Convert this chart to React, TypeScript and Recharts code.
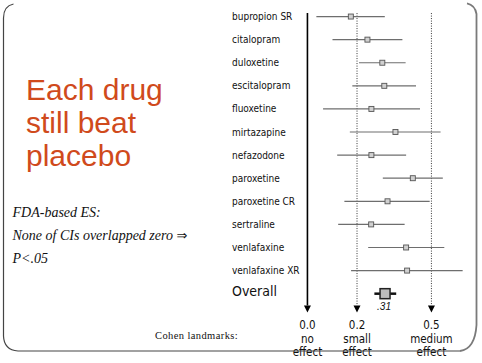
import React from 'react'
import { ScatterChart, Scatter, XAxis, YAxis, ReferenceLine, ReferenceDot } from 'recharts'

// Forest plot values (FDA-based effect sizes, 95% CI)
const drugs = [
  'bupropion SR', 'citalopram', 'duloxetine', 'escitalopram', 'fluoxetine', 'mirtazapine',
  'nefazodone', 'paroxetine', 'paroxetine CR', 'sertraline', 'venlafaxine', 'venlafaxine XR',
]
const effectSizes = [0.175, 0.242, 0.302, 0.31, 0.258, 0.355, 0.258, 0.425, 0.323, 0.257, 0.398, 0.402]
const ciLow = [0.036, 0.101, 0.208, 0.181, 0.063, 0.171, 0.12, 0.304, 0.149, 0.124, 0.245, 0.176]
const ciHigh = [0.312, 0.383, 0.396, 0.438, 0.454, 0.537, 0.398, 0.546, 0.493, 0.392, 0.552, 0.626]

const overallLabel = 'Overall'
const overallEs = 0.313
const overallText = '.31'
const overallCi = [0.27, 0.358]

const landmarks = [0, 0.2, 0.5]
const landmarkLabels = [
  ['0.0', 'no', 'effect'],
  ['0.2', 'small', 'effect'],
  ['0.5', 'medium', 'effect'],
]

const rowLabels = [...drugs, overallLabel]
const rowTicks = rowLabels.map((_, i) => i)
const overallRow = drugs.length

const drugData = drugs.map((name, i) => ({ name, x: effectSizes[i], y: i }))
const overallData = [{ name: overallLabel, x: overallEs, y: overallRow }]

const labelFont = '"DejaVu Sans Condensed", "DejaVu Sans", Tahoma, sans-serif'

function DrugTick(props: any) {
  const { y, payload } = props
  const isOverall = payload.value === overallRow
  return (
    <text
      x={232}
      y={y}
      dy={isOverall ? '0.2em' : '0.35em'}
      textAnchor="start"
      fontFamily={labelFont}
      fontSize={isOverall ? 14 : 10}
      fill="#111"
    >
      {rowLabels[payload.value]}
    </text>
  )
}

function LandmarkTick(props: any) {
  const { x, y, payload } = props
  const idx = landmarks.indexOf(payload.value)
  const lines = landmarkLabels[idx] || []
  const offsets = [17.5, 31.5, 44.5]
  return (
    <g>
      {lines.map((t, i) => (
        <text key={i} x={x} y={y + offsets[i]} textAnchor="middle" fontFamily={labelFont} fontSize={11.5} fill="#111">
          {t}
        </text>
      ))}
    </g>
  )
}

function SmallSquare(props: any) {
  const { cx, cy } = props
  return <rect x={cx - 2.5} y={cy - 2.5} width={5} height={5} fill="#d0d0d0" stroke="#555" strokeWidth={0.9} />
}

function OverallSquare(props: any) {
  const { cx, cy } = props
  return (
    <g>
      <rect x={cx - 5} y={cy - 5} width={10} height={10} fill="#bdbdbd" stroke="#222" strokeWidth={1.5} />
      <text x={cx - 1} y={cy + 16} textAnchor="middle" fontFamily="'Liberation Sans', Arial, sans-serif" fontStyle="italic" fontSize={10} fill="#111">
        {overallText}
      </text>
    </g>
  )
}

function ArrowHead(props: any) {
  const { cx, cy } = props
  return <path d={`M${cx - 3.5},${cy} L${cx + 3.5},${cy} L${cx},${cy + 7} Z`} fill="#000" />
}

export default function App() {
  return (
    <div style={{ position: 'absolute', left: 0, top: 0, width: 482, height: 363, background: '#fff' }}>
      <ScatterChart width={482} height={363} margin={{ top: 5, right: 1, bottom: 0, left: 0 }}>
        <XAxis
          type="number"
          dataKey="x"
          domain={[-0.03, 0.7]}
          ticks={landmarks}
          interval={0}
          axisLine={false}
          tickLine={false}
          tickSize={0}
          tickMargin={0}
          height={52}
          tick={<LandmarkTick />}
          allowDataOverflow
        />
        <YAxis
          type="number"
          dataKey="y"
          domain={[-0.5, 12.75]}
          reversed
          ticks={rowTicks}
          interval={0}
          width={300}
          axisLine={false}
          tickLine={false}
          tick={<DrugTick />}
          allowDataOverflow
        />

        {/* landmark lines: 0 solid, 0.2 and 0.5 dotted */}
        {landmarks.map((v, i) => (
          <ReferenceLine
            key={`lm-${i}`}
            segment={[{ x: v, y: -0.15 }, { x: v, y: 12.51 }]}
            stroke={v === 0 ? '#000' : '#333'}
            strokeWidth={v === 0 ? 1.6 : 1}
            strokeDasharray={v === 0 ? undefined : '1 1.5'}
          />
        ))}
        {landmarks.map((v, i) => (
          <ReferenceDot key={`ar-${i}`} x={v} y={12.51} r={0} shape={<ArrowHead />} />
        ))}

        {/* confidence intervals */}
        {drugs.map((d, i) => (
          <ReferenceLine
            key={`ci-${d}`}
            segment={[{ x: ciLow[i], y: i }, { x: ciHigh[i], y: i }]}
            stroke="#6e6e6e"
            strokeWidth={1.2}
          />
        ))}
        <ReferenceLine
          segment={[{ x: overallCi[0], y: overallRow }, { x: overallCi[1], y: overallRow }]}
          stroke="#111"
          strokeWidth={2.5}
        />

        <Scatter data={drugData} shape={<SmallSquare />} isAnimationActive={false} />
        <Scatter data={overallData} shape={<OverallSquare />} isAnimationActive={false} />
      </ScatterChart>

      <svg width={482} height={363} style={{ position: 'absolute', left: 0, top: 0, pointerEvents: 'none' }}>
        {/* slide frame */}
        <path d="M13.5,4 Q3.5,6 3.5,18 L3.5,336 Q4,350 18,351 L460,351" fill="none" stroke="#444" strokeWidth={1.2} />
        <path d="M460,351 Q475,349 476.5,325 L476.5,14 Q475,5 467,3.3" fill="none" stroke="#7a7a7a" strokeWidth={1.8} />

        <g fontFamily="'Liberation Sans', Arial, sans-serif" fontSize={30} fill="#d04a1c">
          <text x={26} y={100}>Each drug</text>
          <text x={26} y={133}>still beat</text>
          <text x={26} y={166}>placebo</text>
        </g>

        <g fontFamily="'Liberation Serif', 'Times New Roman', serif" fontStyle="italic" fontSize={14} fill="#111">
          <text x={12.5} y={216.5}>FDA-based ES:</text>
          <text x={12.5} y={240}>None of CIs overlapped zero <tspan fontStyle="normal" fontFamily="'DejaVu Sans', sans-serif" fontSize={13}>⇒</tspan></text>
          <text x={12.5} y={263}>P&lt;.05</text>
        </g>

        <text x={155} y={339} fontFamily="'Liberation Serif', 'Times New Roman', serif" fontSize={10.5} letterSpacing={0.4} fill="#111">
          Cohen landmarks:
        </text>
      </svg>
    </div>
  )
}
